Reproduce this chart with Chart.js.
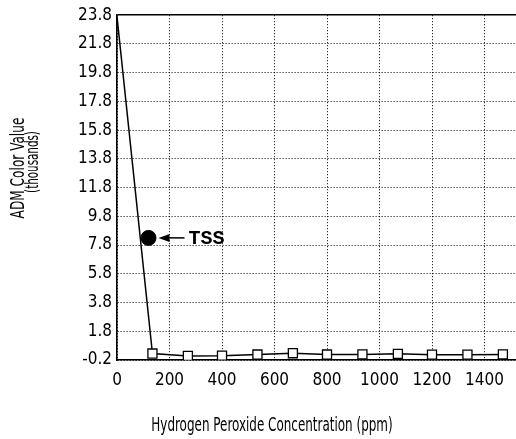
<!DOCTYPE html>
<html>
<head>
<meta charset="utf-8">
<script src="https://cdn.jsdelivr.net/npm/chart.js@4.4.1/dist/chart.umd.min.js"></script>
<style>
  html, body { margin: 0; padding: 0; background: #fff; }
  canvas { display: block; }
</style>
</head>
<body>
<canvas id="chart" width="516" height="439"></canvas>
<script>
// data
const concentrations = [0, 135, 270, 400, 535, 670, 800, 935, 1070, 1200, 1335, 1470];
const colorValues = [23.7, 0.25, 0.08, 0.1, 0.18, 0.27, 0.18, 0.19, 0.23, 0.17, 0.17, 0.19];
const tssConcentration = [120];
const tssValue = [8.3];
const xTickValues = [0, 200, 400, 600, 800, 1000, 1200, 1400];
const yTickValues = [-0.2, 1.8, 3.8, 5.8, 7.8, 9.8, 11.8, 13.8, 15.8, 17.8, 19.8, 21.8, 23.8];
const xTitle = 'Hydrogen Peroxide Concentration (ppm)';
const yTitle = ['ADM Color Value', '(thousands)'];
const tssLabel = 'TSS';

const narrow = '"Liberation Sans Narrow", "DejaVu Sans Condensed", sans-serif';
const tickFont = { family: narrow, size: 17 };

// stretched text, to get the tall narrow lettering of the scan
function tallText(ctx, text, x, y, size, stretch, angle) {
    ctx.save();
    ctx.font = size + 'px ' + narrow;
    ctx.textAlign = 'center';
    ctx.textBaseline = 'middle';
    ctx.translate(x, y);
    ctx.rotate(angle);
    ctx.scale(1, stretch);
    ctx.fillText(text, 0, 0);
    ctx.restore();
}

// titles and the TSS arrow are drawn by hand
const annotations = {
    id: 'annotations',
    afterDraw(chart) {
        const { ctx } = chart;
        const xs = chart.scales.x, ys = chart.scales.y;
        ctx.save();
        ctx.fillStyle = '#000';
        ctx.strokeStyle = '#000';

        // TSS pointer
        const px = xs.getPixelForValue(tssConcentration[0]);
        const py = ys.getPixelForValue(tssValue[0]);
        ctx.lineWidth = 1.5;
        ctx.beginPath();
        ctx.moveTo(px + 16, py);
        ctx.lineTo(px + 36, py);
        ctx.stroke();
        ctx.beginPath();
        ctx.moveTo(px + 10, py);
        ctx.lineTo(px + 21, py - 4);
        ctx.lineTo(px + 21, py + 4);
        ctx.closePath();
        ctx.fill();
        ctx.font = 'bold 20px "Liberation Mono", "DejaVu Sans Mono", monospace';
        ctx.textAlign = 'left';
        ctx.textBaseline = 'middle';
        ctx.fillText(tssLabel, px + 40, py + 1);

        tallText(ctx, xTitle, 272, 426, 13.3, 1.5, 0);
        tallText(ctx, yTitle[0], 19, 168, 13.5, 1.4, -Math.PI / 2);
        tallText(ctx, yTitle[1], 33, 162, 11.5, 1.6, -Math.PI / 2);

        ctx.restore();
    }
};

const chart = new Chart(document.getElementById('chart'), {
    type: 'line',
    data: {
        datasets: [
            {
                label: 'ADM color',
                data: concentrations.map((c, i) => ({ x: c, y: colorValues[i] })),
                borderColor: '#000',
                borderWidth: 1.5,
                tension: 0,
                pointStyle: 'rect',
                pointRadius: concentrations.map((_, i) => i === 0 ? 0 : 6.4),
                pointBackgroundColor: '#fff',
                pointBorderColor: '#000',
                pointBorderWidth: 1.3
            },
            {
                label: 'TSS',
                data: tssConcentration.map((c, i) => ({ x: c, y: tssValue[i] })),
                showLine: false,
                pointRadius: 7.5,
                pointBackgroundColor: '#000',
                pointBorderColor: '#000'
            }
        ]
    },
    options: {
        responsive: false,
        devicePixelRatio: 1,
        animation: false,
        layout: { autoPadding: false, padding: { top: 12, right: 0, left: 0, bottom: 0 } },
        plugins: {
            legend: { display: false },
            tooltip: { enabled: false }
        },
        scales: {
            x: {
                type: 'linear',
                min: 0,
                max: 1520,
                afterBuildTicks: axis => { axis.ticks = xTickValues.map(v => ({ value: v })); },
                afterFit: axis => { axis.height = 79; },
                ticks: {
                    color: '#000',
                    font: tickFont,
                    padding: 10,
                    maxRotation: 0,
                    callback: v => String(v)
                },
                grid: { color: '#000', lineWidth: 1, drawTicks: false },
                border: { color: '#000', width: 1.6, dash: [1, 2] }
            },
            y: {
                type: 'linear',
                min: -0.2,
                max: 23.8,
                afterBuildTicks: axis => { axis.ticks = yTickValues.map(v => ({ value: v })); },
                afterFit: axis => { axis.width = 117; },
                ticks: {
                    color: '#000',
                    font: tickFont,
                    padding: 5,
                    callback: v => v.toFixed(1)
                },
                grid: {
                    color: '#000',
                    lineWidth: c => c.index === yTickValues.length - 1 ? 1.6 : 1,
                    drawTicks: false
                },
                border: {
                    color: '#000',
                    width: 1.6,
                    dash: c => c.index === yTickValues.length - 1 ? [] : [1, 2]
                }
            }
        }
    },
    plugins: [annotations]
});
</script>
</body>
</html>
